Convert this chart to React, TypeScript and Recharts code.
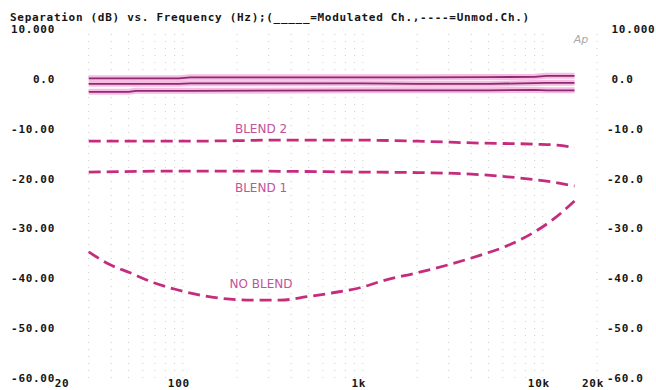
import React from 'react';
import { LineChart, Line, XAxis, YAxis, ReferenceDot, ReferenceLine } from 'recharts';

const TITLE = 'Separation (dB) vs. Frequency (Hz);(_____=Modulated Ch.,----=Unmod.Ch.)';

const FREQ_TICKS = [20, 100, 1000, 10000, 20000];
const FREQ_TICK_LABELS = ['20', '100', '1k', '10k', '20k'];
const DB_TICKS = [10, 0, -10, -20, -30, -40, -50, -60];
const LEFT_TICK_LABELS = ['10.000', '0.0', '-10.00', '-20.00', '-30.00', '-40.00', '-50.00', '-60.00'];
const RIGHT_TICK_LABELS = ['10.000', '0.0', '-10.0', '-20.0', '-30.0', '-40.0', '-50.0', '-60.0'];
const GRID_FREQS = [
  30, 40, 50, 60, 70, 80, 90, 100, 200, 300, 400, 500, 600, 700, 800, 900,
  1000, 2000, 3000, 4000, 5000, 6000, 7000, 8000, 9000, 10000, 20000,
];

// Modulated channel (solid)
const MOD_FREQ = [30, 50, 55, 95, 110, 1000, 2000, 5000, 9000, 10500, 15000];
const MOD_A = [0.1, 0.1, 0.1, 0.1, 0.3, 0.3, 0.3, 0.35, 0.4, 0.6, 0.6];
const MOD_B = [-1.0, -1.0, -1.0, -1.0, -0.9, -0.9, -1.0, -1.0, -0.85, -0.8, -0.8];
const MOD_C = [-2.6, -2.6, -2.4, -2.4, -2.4, -2.3, -2.3, -2.3, -2.2, -2.3, -2.3];

// Unmodulated channel (dashed)
const BLEND2_FREQ = [30, 100, 200, 300, 1000, 2000, 4650, 9100, 12000, 15000];
const BLEND2_DB = [-12.5, -12.5, -12.4, -12.3, -12.3, -12.5, -12.9, -13.1, -13.3, -13.8];

const BLEND1_FREQ = [30, 100, 200, 1000, 2000, 4000, 7500, 11400, 15000];
const BLEND1_DB = [-18.7, -18.5, -18.5, -18.7, -18.8, -19.1, -19.9, -20.7, -21.5];

const NOBLEND_FREQ = [30, 39, 51, 69, 93, 130, 183, 257, 346, 488, 683, 965, 1290, 2000, 3050, 4470, 6320, 8810, 11400, 15000];
const NOBLEND_DB = [-34.7, -37.2, -38.9, -40.9, -42.3, -43.5, -44.2, -44.4, -44.4, -43.7, -42.9, -41.9, -40.5, -38.9, -37.2, -35.4, -33.5, -30.9, -28.2, -24.5];

const LABELS = [
  { text: 'BLEND 2', f: 272, db: -10 },
  { text: 'BLEND 1', f: 272, db: -21.8 },
  { text: 'NO BLEND', f: 272, db: -41 },
];

const toSeries = (fs: number[], vs: number[]) => fs.map((f, i) => ({ f, v: vs[i] }));

const monoFont: React.CSSProperties = {
  fontFamily: '"DejaVu Sans Mono", monospace',
  fontWeight: 'bold',
  fontSize: 11,
  letterSpacing: 0.7,
  fill: '#151515',
};

const LeftTick = (props: any) => {
  const { x, y, payload } = props;
  const label = LEFT_TICK_LABELS[DB_TICKS.indexOf(payload.value)];
  return (
    <text x={x - 2} y={y + 4} textAnchor="end" style={monoFont}>
      {label}
    </text>
  );
};

const RightTick = (props: any) => {
  const { x, y, payload } = props;
  const label = RIGHT_TICK_LABELS[DB_TICKS.indexOf(payload.value)];
  const dx = label.startsWith('-') ? 10 : 14.5;
  return (
    <text x={x + dx} y={y + 4} textAnchor="start" style={monoFont}>
      {label}
    </text>
  );
};

const BottomTick = (props: any) => {
  const { x, y, payload } = props;
  const idx = FREQ_TICKS.indexOf(payload.value);
  const dx = idx === 0 ? 5 : -4;
  return (
    <text x={x + dx} y={y + 9} textAnchor="middle" style={monoFont}>
      {FREQ_TICK_LABELS[idx]}
    </text>
  );
};

const SOLID_CORE = '#8e2a72';
const SOLID_HALO = '#f6bde3';
const DASH = '#c52c7e';

export default function App() {
  const modA = toSeries(MOD_FREQ, MOD_A);
  const modB = toSeries(MOD_FREQ, MOD_B);
  const modC = toSeries(MOD_FREQ, MOD_C);
  const b2 = toSeries(BLEND2_FREQ, BLEND2_DB);
  const b1 = toSeries(BLEND1_FREQ, BLEND1_DB);
  const nb = toSeries(NOBLEND_FREQ, NOBLEND_DB);

  return (
    <div style={{ position: 'absolute', left: 0, top: 0, width: 656, height: 390, background: '#fff' }}>
      <svg
        width={656}
        height={30}
        style={{ position: 'absolute', left: 0, top: 0, pointerEvents: 'none' }}
      >
        <text x={10} y={21} style={monoFont}>
          {TITLE}
        </text>
      </svg>
      <LineChart width={656} height={390} margin={{ top: 29, right: 9, bottom: 0, left: 7 }}>
        <XAxis
          dataKey="f"
          type="number"
          scale="log"
          domain={[20, 20000]}
          ticks={FREQ_TICKS}
          allowDataOverflow
          axisLine={false}
          tickLine={false}
          tickSize={0}
          tickMargin={0}
          height={12}
          tick={<BottomTick />}
          interval={0}
        />
        <YAxis
          yAxisId="left"
          orientation="left"
          type="number"
          domain={[-60, 10]}
          allowDataOverflow
          ticks={DB_TICKS}
          width={50}
          axisLine={false}
          tickLine={false}
          tickSize={0}
          tickMargin={0}
          tick={<LeftTick />}
          interval={0}
        />
        <YAxis
          yAxisId="right"
          orientation="right"
          type="number"
          domain={[-60, 10]}
          allowDataOverflow
          ticks={DB_TICKS}
          width={50}
          axisLine={false}
          tickLine={false}
          tickSize={0}
          tickMargin={0}
          tick={<RightTick />}
          interval={0}
        />
        {GRID_FREQS.map((f) => (
          <ReferenceLine
            key={'g' + f}
            x={f}
            yAxisId="left"
            stroke="#cdcdcd"
            strokeDasharray="1 6"
            strokeWidth={1}
          />
        ))}
        <Line yAxisId="right" data={modB} dataKey="v" type="linear" stroke="none" strokeWidth={0} dot={false} legendType="none" isAnimationActive={false} />
        <Line yAxisId="left" data={modA} dataKey="v" type="linear" stroke={SOLID_HALO} strokeWidth={6} dot={false} isAnimationActive={false} />
        <Line yAxisId="left" data={modB} dataKey="v" type="linear" stroke={SOLID_HALO} strokeWidth={6} dot={false} isAnimationActive={false} />
        <Line yAxisId="left" data={modC} dataKey="v" type="linear" stroke={SOLID_HALO} strokeWidth={6} dot={false} isAnimationActive={false} />
        <Line yAxisId="left" data={modA} dataKey="v" type="linear" stroke={SOLID_CORE} strokeWidth={1.8} dot={false} isAnimationActive={false} />
        <Line yAxisId="left" data={modB} dataKey="v" type="linear" stroke={SOLID_CORE} strokeWidth={1.8} dot={false} isAnimationActive={false} />
        <Line yAxisId="left" data={modC} dataKey="v" type="linear" stroke={SOLID_CORE} strokeWidth={1.8} dot={false} isAnimationActive={false} />
        <Line yAxisId="left" data={b2} dataKey="v" type="monotone" stroke={DASH} strokeWidth={2.8} strokeDasharray="12 6" dot={false} isAnimationActive={false} />
        <Line yAxisId="left" data={b1} dataKey="v" type="monotone" stroke={DASH} strokeWidth={2.8} strokeDasharray="12 6" dot={false} isAnimationActive={false} />
        <Line yAxisId="left" data={nb} dataKey="v" type="monotone" stroke={DASH} strokeWidth={2.8} strokeDasharray="12 6" dot={false} isAnimationActive={false} />
        {LABELS.map((l) => (
          <ReferenceDot
            key={l.text}
            x={l.f}
            y={l.db}
            yAxisId="left"
            r={0}
            fill="none"
            stroke="none"
            label={{
              value: l.text,
              position: 'center',
              fill: '#c2529a',
              fontSize: 12,
              fontFamily: '"DejaVu Sans", sans-serif',
            }}
          />
        ))}
        <ReferenceDot
          x={16300}
          y={8}
          yAxisId="left"
          r={0}
          fill="none"
          stroke="none"
          label={{
            value: 'Ap',
            position: 'center',
            fill: '#a8a8a8',
            fontSize: 11,
            fontStyle: 'italic',
            fontFamily: '"DejaVu Sans", sans-serif',
          }}
        />
      </LineChart>
    </div>
  );
}
